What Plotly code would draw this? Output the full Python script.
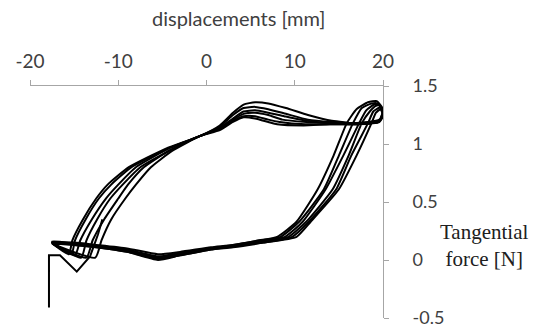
import plotly.graph_objects as go

# ---- data (displacement [mm], tangential force [N]) ----
x_ticks = [-20, -10, 0, 10, 20]
x_tick_text = ["-20", "-10", "0", "10", "20"]
y_ticks = [-0.5, 0, 0.5, 1, 1.5]
y_tick_text = ["-0.5", "0", "0.5", "1", "1.5"]

# initial loading segment
start_x = [-17.85, -17.85, -16.6, -14.7, -13.2, -12.3, -11.8]
start_y = [-0.41, 0.04, 0.04, -0.10, 0.03, 0.22, 0.35]

loop1_x = [-17.5, -15.0, -12.5, -9.0, -5.5, -3.0, 0.5, 3.0, 6.0, 8.0, 10.2, 12.6, 14.4, 15.9, 17.0, 18.3, 19.3, 20.0, 19.6,
           17.0, 14.2, 11.5, 9.0, 7.0, 5.5, 4.2, 3.0, 1.5, -0.7, -4.6, -8.8, -11.2, -12.5, -14.0, -15.2, -15.6, -17.5]
loop1_y = [0.15, 0.15, 0.13, 0.10, 0.05, 0.07, 0.11, 0.13, 0.17, 0.20, 0.33, 0.61, 0.90, 1.18, 1.30, 1.36, 1.37, 1.30, 1.20,
           1.18, 1.20, 1.25, 1.31, 1.35, 1.36, 1.34, 1.27, 1.16, 1.07, 0.96, 0.80, 0.65, 0.53, 0.35, 0.17, 0.05, 0.15]

loop2_x = [-17.5, -15.0, -12.5, -9.0, -5.5, -3.0, 0.5, 3.0, 6.1, 8.4, 10.5, 13.3, 15.0, 16.6, 17.6, 18.7, 19.4, 20.0, 19.6,
           17.0, 14.2, 11.5, 9.0, 7.0, 5.5, 4.2, 3.0, 1.5, -0.7, -4.3, -8.0, -10.0, -11.4, -13.0, -14.3, -14.9, -17.5]
loop2_y = [0.16, 0.14, 0.12, 0.09, 0.03, 0.06, 0.10, 0.13, 0.17, 0.20, 0.33, 0.61, 0.90, 1.18, 1.31, 1.35, 1.35, 1.29, 1.21,
           1.18, 1.19, 1.21, 1.26, 1.30, 1.32, 1.31, 1.25, 1.15, 1.07, 0.96, 0.80, 0.65, 0.53, 0.35, 0.17, 0.04, 0.16]

loop3_x = [-17.5, -15.0, -12.5, -9.0, -5.5, -3.0, 0.5, 3.0, 6.2, 8.9, 10.9, 13.5, 15.5, 17.3, 18.1, 19.0, 19.5, 20.1, 19.6,
           17.0, 14.1, 11.4, 8.8, 7.0, 5.5, 4.2, 3.0, 1.5, -0.7, -4.4, -8.5, -10.8, -12.2, -13.7, -14.9, -15.3, -17.5]
loop3_y = [0.15, 0.14, 0.12, 0.08, 0.02, 0.05, 0.10, 0.12, 0.16, 0.20, 0.33, 0.61, 0.90, 1.18, 1.29, 1.34, 1.34, 1.28, 1.20,
           1.18, 1.18, 1.20, 1.24, 1.27, 1.29, 1.28, 1.22, 1.14, 1.07, 0.96, 0.80, 0.65, 0.53, 0.35, 0.17, 0.05, 0.15]

loop4_x = [-17.5, -15.0, -12.5, -9.0, -5.5, -3.0, 0.5, 3.0, 6.3, 9.3, 11.3, 14.3, 16.1, 17.6, 18.5, 19.2, 19.6, 20.1, 19.6,
           17.0, 14.1, 11.3, 8.6, 7.0, 5.5, 4.2, 3.0, 1.5, -0.7, -4.1, -7.1, -8.9, -10.0, -11.6, -12.9, -13.6, -17.5]
loop4_y = [0.14, 0.13, 0.11, 0.07, 0.00, 0.04, 0.09, 0.12, 0.16, 0.20, 0.33, 0.61, 0.90, 1.18, 1.28, 1.33, 1.33, 1.27, 1.19,
           1.17, 1.18, 1.19, 1.21, 1.25, 1.27, 1.26, 1.21, 1.13, 1.07, 0.95, 0.80, 0.65, 0.53, 0.35, 0.17, 0.02, 0.14]

loop5_x = [-17.5, -15.0, -12.5, -9.0, -5.5, -3.0, 0.5, 3.0, 6.4, 9.7, 11.6, 14.7, 16.4, 18.3, 18.9, 19.5, 19.7, 20.0, 19.5,
           17.0, 14.0, 11.2, 8.3, 7.0, 5.5, 4.2, 3.0, 1.5, -0.7, -4.0, -7.5, -9.5, -10.9, -12.4, -13.6, -14.2, -17.5]
loop5_y = [0.15, 0.14, 0.12, 0.08, 0.03, 0.05, 0.10, 0.12, 0.15, 0.20, 0.33, 0.61, 0.90, 1.18, 1.28, 1.31, 1.31, 1.26, 1.19,
           1.17, 1.17, 1.17, 1.19, 1.21, 1.24, 1.24, 1.20, 1.13, 1.07, 0.95, 0.80, 0.65, 0.53, 0.35, 0.17, 0.02, 0.15]

loop6_x = [-17.4, -15.0, -12.5, -9.0, -5.5, -3.0, 0.5, 3.0, 6.5, 10.2, 11.8, 15.0, 17.0, 18.7, 19.2, 19.7, 19.8, 20.0, 19.5,
           17.0, 14.0, 11.0, 8.0, 7.0, 5.5, 4.2, 3.0, 1.5, -0.7, -3.9, -6.3, -8.0, -9.2, -10.8, -11.9, -12.6, -17.4]
loop6_y = [0.14, 0.13, 0.11, 0.07, 0.01, 0.04, 0.09, 0.11, 0.15, 0.20, 0.33, 0.61, 0.90, 1.18, 1.27, 1.30, 1.29, 1.24, 1.19,
           1.17, 1.17, 1.16, 1.17, 1.19, 1.22, 1.23, 1.19, 1.12, 1.07, 0.94, 0.80, 0.65, 0.53, 0.35, 0.17, 0.02, 0.14]

loops = [(loop1_x, loop1_y), (loop2_x, loop2_y), (loop3_x, loop3_y),
         (loop4_x, loop4_y), (loop5_x, loop5_y), (loop6_x, loop6_y)]

fig = go.Figure()
fig.add_trace(go.Scatter(x=start_x, y=start_y, mode="lines",
                         line=dict(color="black", width=2), hoverinfo="skip"))
for lx, ly in loops:
    fig.add_trace(go.Scatter(x=lx, y=ly, mode="lines",
                             line=dict(color="black", width=2, shape="spline", smoothing=0.5),
                             hoverinfo="skip"))

axis_col = "#a6a6a6"
text_col = "#404040"

fig.update_layout(
    width=535, height=329,
    margin=dict(l=30, r=152, t=86, b=11),
    paper_bgcolor="white", plot_bgcolor="white",
    showlegend=False,
    font=dict(family="Lato, 'Open Sans', sans-serif", size=19, color=text_col),
    xaxis=dict(side="top", range=[-20, 20], tickvals=x_ticks, ticktext=x_tick_text,
               ticks="outside", ticklen=5, automargin=False, ticklabelstandoff=4,
               ticklabeloverflow="allow",
               tickcolor=axis_col, showline=True, linecolor=axis_col, linewidth=1,
               showgrid=False, zeroline=False, tickfont=dict(size=19, color=text_col)),
    yaxis=dict(side="right", range=[-0.5, 1.5], tickvals=y_ticks, ticktext=y_tick_text,
               ticks="outside", ticklen=5, tickcolor=axis_col, showline=True, linecolor=axis_col,
               linewidth=1, showgrid=False, zeroline=False, ticklabelstandoff=20, automargin=False,
               ticklabeloverflow="allow",
               tickfont=dict(size=18, color=text_col)),
    annotations=[
        dict(text="displacements [mm]", xref="paper", yref="paper", x=(238 - 30) / 353, y=(318 - 18) / 232,
             showarrow=False, xanchor="center", yanchor="middle",
             font=dict(family="Lato, sans-serif", size=20, color=text_col)),
        dict(text="Tangential<br>force [N]", xref="paper", yref="paper", x=(484 - 30) / 353,
             y=(318 - 245) / 232, showarrow=False, xanchor="center", yanchor="middle",
             align="center",
             font=dict(family="Liberation Serif, serif", size=21, color="#202020")),
    ],
)

fig.write_html("out.html", config={"displayModeBar": False},
               post_script="document.body.style.margin='0';document.body.style.overflow='hidden';")
